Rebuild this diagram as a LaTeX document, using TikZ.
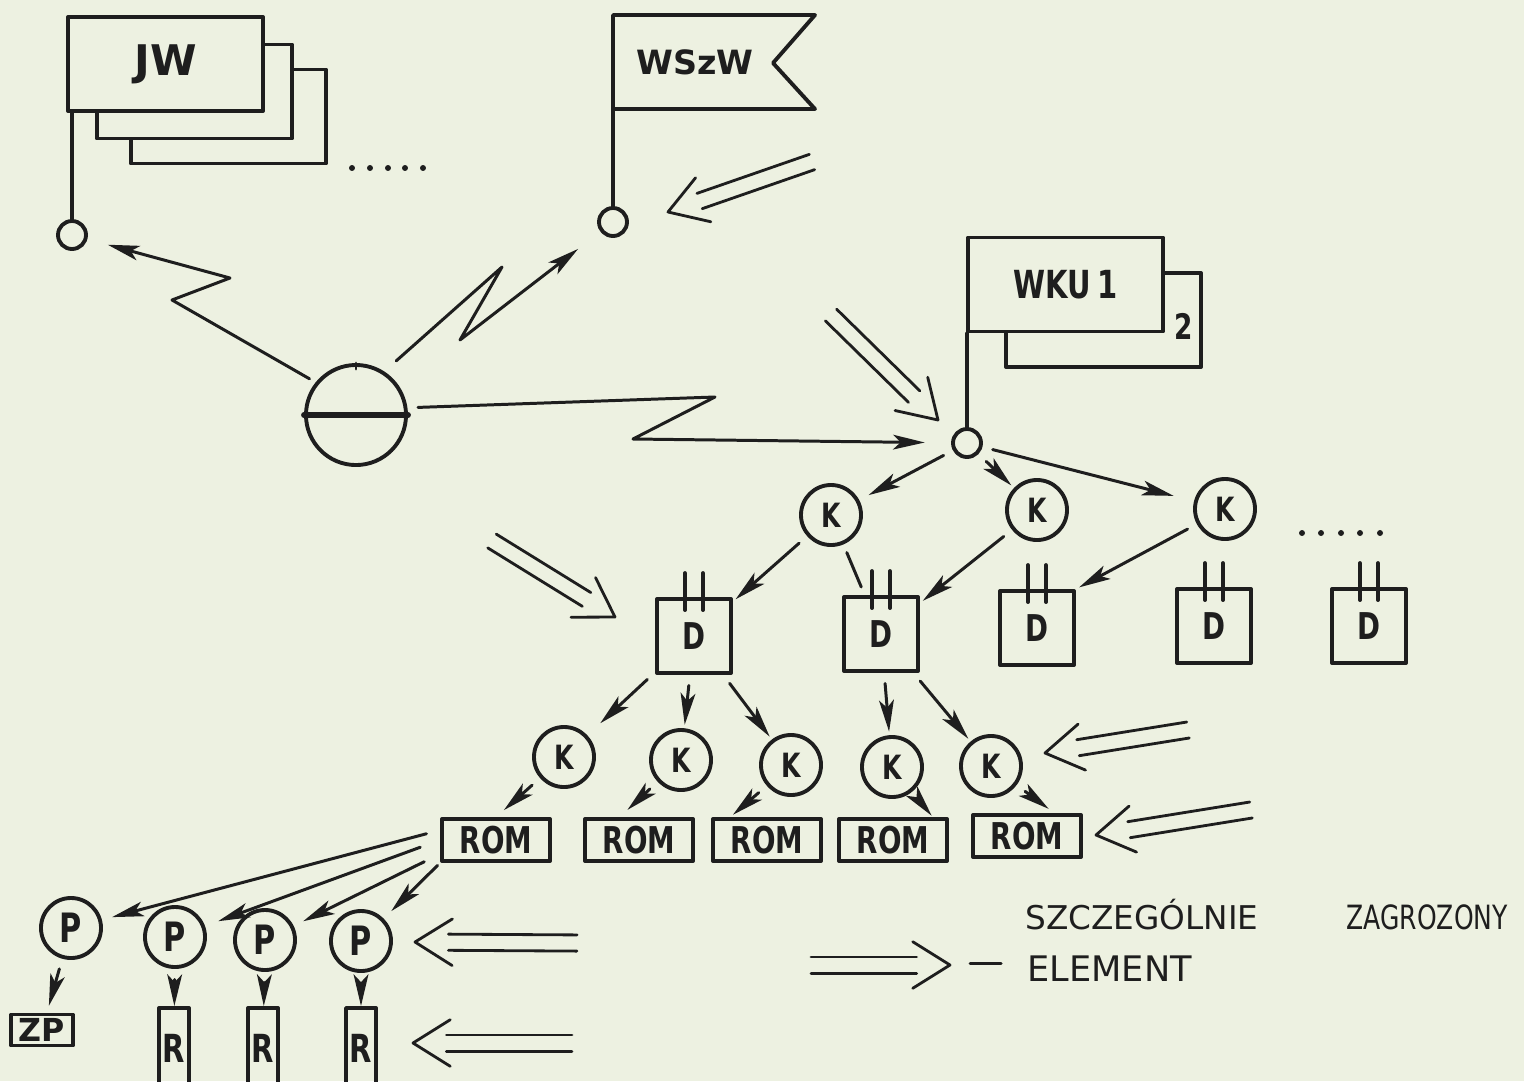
\documentclass[tikz,border=0pt]{standalone}
\usepackage{fontspec}
\setmainfont{DejaVu Sans}
\newfontfamily\hand[FakeStretch=0.75]{DejaVu Sans}
\usepackage{tikz}
\usetikzlibrary{arrows.meta,calc,positioning}
\definecolor{zpaper}{HTML}{EDF1E1}
\definecolor{zink}{HTML}{1E1E1E}

\begin{document}
\begin{tikzpicture}[x=0.01cm,y=-0.01cm,>={Stealth[length=9pt,width=4.2pt,inset=2.2pt]},
  line width=.85pt,color=zink,line cap=round,line join=round,
  arr/.style={->,shorten <=3pt,shorten >=3pt},
  heavy/.style={line width=1.1pt},
  hub/.style={circle,draw,heavy,minimum size=.28cm,inner sep=0pt},
  ring/.style={circle,draw,heavy,minimum size=.6cm,inner sep=0pt,font=\hand\bfseries\fontsize{9.5}{9.5}\selectfont},
  pring/.style={ring,font=\hand\bfseries\fontsize{11.5}{11.5}\selectfont},
  dbox/.style={draw,heavy,minimum size=.74cm,inner sep=0pt,font=\hand\bfseries\fontsize{10.5}{10.5}\selectfont},
  rom/.style={draw,heavy,minimum width=1.08cm,minimum height=.42cm,inner sep=0pt,font=\hand\bfseries\fontsize{10.5}{10.5}\selectfont},
  rbox/.style={draw,heavy,minimum width=.3cm,minimum height=.8cm,inner sep=0pt,font=\hand\bfseries\fontsize{11}{11}\selectfont},
  flagbox/.style={draw,heavy,fill=zpaper,inner sep=0pt,minimum width=1.95cm,minimum height=.94cm},
  dot/.style={circle,fill,inner sep=0pt,minimum size=1.7pt},
  legend/.style={anchor=base west,inner sep=0pt,font=\fontsize{9.3}{9.3}\selectfont},
  dbl/.style={line width=.8pt},
  chev/.style={line width=.8pt}]
\path[use as bounding box] (0,0) rectangle (1524,1081);
\clip (0,0) rectangle (1524,1081);
\fill[zpaper] (0,0) rectangle (1524,1081);

% JW: three stacked flags
\node[flagbox] (jw3) at (228.5,116.5) {};
\node[flagbox] (jw2) at (194.5,91.5) {};
\node[flagbox,font=\bfseries\fontsize{12}{12}\selectfont] (jw) at (165.5,64) {JW};
\node[hub] (jwc) at (72,235) {};
\draw[heavy] (jwc) -- (jwc |- jw.south);
\foreach \x in {352,370,388,405,423} \node[dot] at (\x,168) {};

% WSzW
\node[hub] (wsc) at (613,222) {};
\draw[heavy] (wsc) -- (613,15) -- (815,15) -- (773,63) -- (815,109) -- (613,109);
\node[font=\bfseries\fontsize{9.5}{9.5}\selectfont] (wsz) at (695,62) {WSzW};

% WKU
\node[flagbox] (wku2) at (1103.5,320) {};
\node[flagbox,font=\hand\bfseries\fontsize{11}{11}\selectfont] (wku) at (1065.5,284.5) {WKU\,1};
\node[font=\hand\bfseries\fontsize{10}{10}\selectfont] (wkn) at (1184,326) {2};
\node[hub] (wkc) at (967,443) {};
\draw[heavy] (wkc) -- (wkc |- wku.south);

% radio station and its links
\node[circle,draw,heavy,minimum size=1.0cm,inner sep=0pt] (radio) at (356,415) {};
\draw[line width=1.7pt] (radio.west) -- (radio.east);
\draw (radio.north) -- ++(0,6);
\coordinate (zj1) at (172,300); \coordinate (zj2) at (230,278);
\coordinate (zw1) at (502,267); \coordinate (zw2) at (460,340);
\coordinate (zk1) at (715,397); \coordinate (zk2) at (633,439);
\draw[->,shorten <=2pt,shorten >=6pt] (radio.141) -- (zj1) -- (zj2) -- (jwc);
\draw[->,shorten <=4.5pt,shorten >=8pt] (radio.57) -- (zw1) -- (zw2) -- (wsc);
\draw[->,shorten <=3pt,shorten >=7.5pt] (radio.8) -- (zk1) -- (zk2) -- (wkc);

% first level K and D
\node[ring] (k1) at (831,515) {K};
\node[ring] (k2) at (1037,510) {K};
\node[ring] (k3) at (1225,509) {K};
\foreach \x in {1302,1321,1341,1360,1380} \node[dot] at (\x,533) {};
\draw[arr] (wkc) -- (k1);
\draw[arr,shorten >=1pt] (wkc) -- (k2);
\draw[arr,shorten >=6pt] (wkc) -- (k3);
\node[dbox] (d1) at (694,636) {D};
\node[dbox] (d2) at (881,634) {D};
\node[dbox] (d3) at (1037,628) {D};
\node[dbox] (d4) at (1214,626) {D};
\node[dbox] (d5) at (1369,626) {D};
\foreach \d in {d1,d2,d3,d4,d5}
  \foreach \s in {-9,9} \draw[heavy] ($(\d.north)+(\s,13)$) -- ++(0,-37);
\draw[arr,shorten >=1pt] (k1) -- (d1);
\draw[shorten <=2.5pt,shorten >=2.5pt] (k1) -- (d2);
\draw[arr,shorten >=1pt] (k2) -- (d2);
\draw[arr,shorten >=1pt] (k3) -- (d3.north east);

% second level K and ROM
\node[ring] (k21) at (564,757) {K};
\node[ring] (k22) at (681,760) {K};
\node[ring] (k23) at (791,765) {K};
\node[ring] (k24) at (892,767) {K};
\node[ring] (k25) at (991,766) {K};
\draw[arr,shorten >=5pt] (d1) -- (k21);
\draw[arr,shorten >=1pt] (d1) -- (k22);
\draw[arr,shorten >=1pt] (d1) -- (k23);
\draw[arr,shorten >=1pt] (d2) -- (k24);
\draw[arr,shorten >=1pt] (d2) -- (k25);
\node[rom] (rom1) at (496,840) {ROM};
\node[rom] (rom2) at (639,840) {ROM};
\node[rom] (rom3) at (767,840) {ROM};
\node[rom] (rom4) at (893,840) {ROM};
\node[rom] (rom5) at (1027,836) {ROM};
\draw[arr] (k21) -- (rom1.north);
\draw[arr] (k22) -- (rom2.130);
\draw[arr,shorten >=1pt] (k23) -- (rom3.148);
\draw[arr,shorten >=.5pt] (k24) -- (rom4.30);
\draw[arr,shorten >=2pt] (k25) -- (rom5.40);

% P, R, ZP
\node[pring] (p1) at (71,928) {P};
\node[pring] (p2) at (175,937) {P};
\node[pring] (p3) at (265,940) {P};
\node[pring] (p4) at (361,941) {P};
\draw[arr,shorten <=4pt] (rom1.170) -- (p1);
\draw[arr,shorten <=6pt,shorten >=4pt] (rom1.180) -- (p2);
\draw[arr,shorten <=5pt] (rom1.194) -- (p3);
\draw[arr,shorten <=1pt] (rom1.south west) -- (p4);
\node[draw,heavy,minimum width=.62cm,minimum height=.31cm,inner sep=0pt,font=\bfseries\fontsize{9}{9}\selectfont] (zp) at (42,1030) {ZP};
\node[rbox] (r1) at (174,1048) {R};
\node[rbox] (r2) at (263,1048) {R};
\node[rbox] (r3) at (361,1048) {R};
\draw[arr,shorten >=2pt] (p1) -- (zp);
\draw[arr,shorten >=0pt] (p2) -- (r1);
\draw[arr,shorten >=0pt] (p3) -- (r2);
\draw[arr,shorten >=0pt] (p4) -- (r3);

% hollow double arrows (endangered elements)
\coordinate (tws) at (812,162);  \coordinate (hws) at (668,212);
\coordinate (twk) at (831,315);  \coordinate (hwk) at (938,420);
\coordinate (tdd) at (492,541);  \coordinate (hdd) at (615,617);
\coordinate (tpp) at (577,943);  \coordinate (hpp) at (415,942);
\coordinate (trr) at (572,1043); \coordinate (hrr) at (413,1043);
\coordinate (tkk) at (1188,730); \coordinate (hkk) at (1045,753);
\coordinate (tro) at (1251,810); \coordinate (hro) at (1096,835);
\coordinate (tlg) at (811,965);  \coordinate (hlg) at (950,965);
\foreach \tl/\hd in {tws/hws,twk/hwk,tdd/hdd,tpp/hpp,trr/hrr,tkk/hkk,tro/hro,tlg/hlg} {
  \coordinate (e) at ($(\hd)!9.5pt!(\tl)$);
  \foreach \a in {-90,90}
    \draw[dbl] ($(\tl)!2.3pt!\a:(\hd)$) -- ($(e)!2.3pt!\a:(\hd)$);
  \draw[chev] ($(\hd)!12.5pt!-32:(\tl)$) -- (\hd) -- ($(\hd)!12.5pt!32:(\tl)$);
}

% legend
\draw (970,963) -- (1001,963);
\node[legend] (lg1) at (1024,929) {SZCZEGÓLNIE};
\node[legend,font=\hand\fontsize{9.5}{9.5}\selectfont] (lg2) at (1345,929) {ZAGROZONY};
\node[legend,font=\fontsize{10}{10}\selectfont] (lg3) at (1026,981) {ELEMENT};
\end{tikzpicture}
\end{document}
